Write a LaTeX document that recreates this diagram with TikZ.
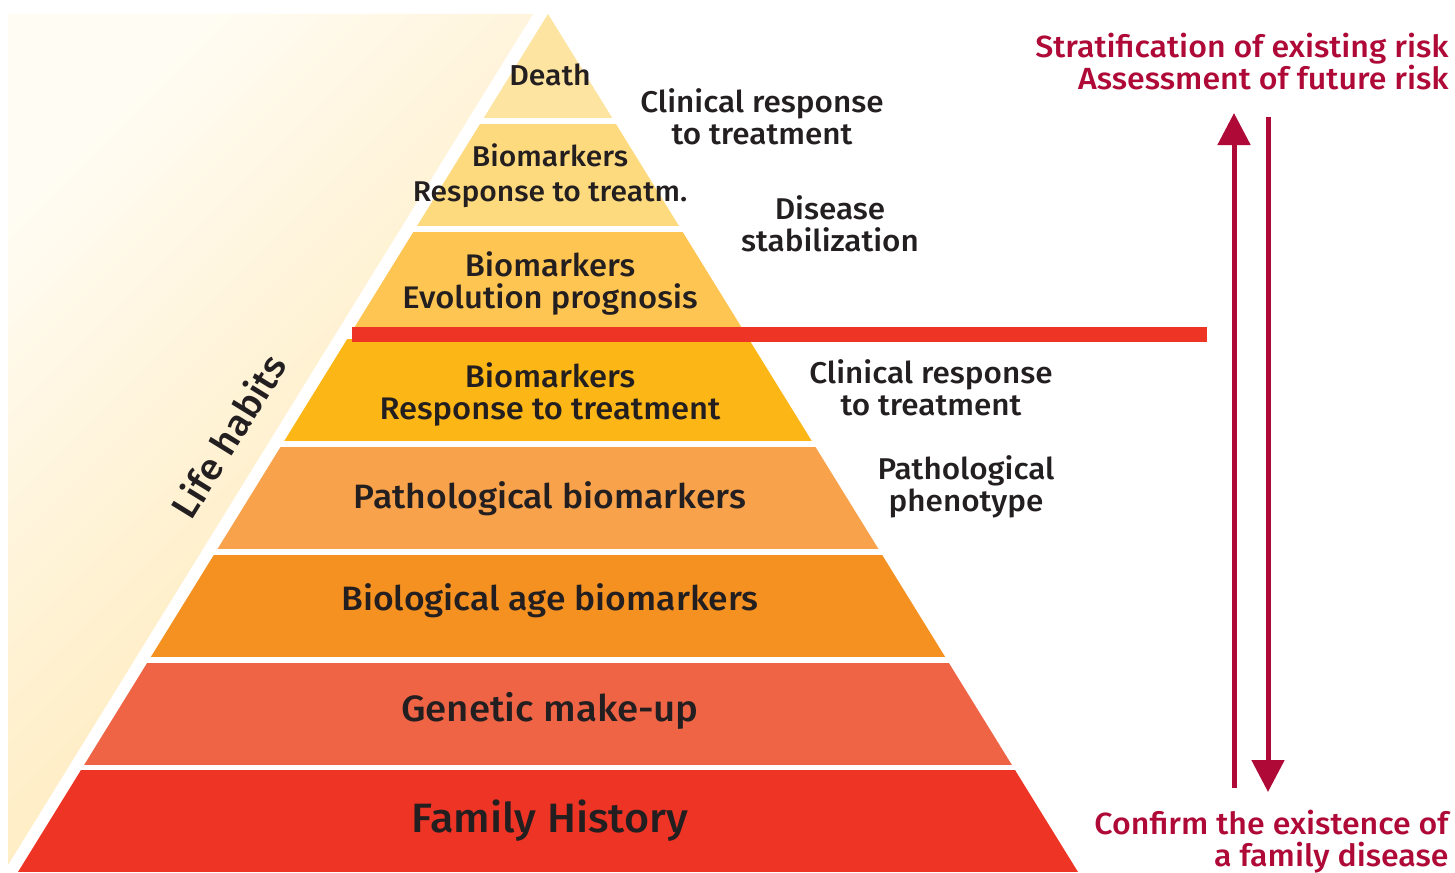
\documentclass[tikz,border=0pt]{standalone}
\usepackage{fontspec}
\setmainfont{Fira Sans}[UprightFont={* Medium}, FakeStretch=1.05]
\usepackage{tikz}
\usetikzlibrary{arrows.meta}
\definecolor{habitLight}{HTML}{FFFCF3}
\definecolor{habitDark}{HTML}{FFE6AE}
\definecolor{deathFill}{HTML}{FEE4A1}
\definecolor{respFill}{HTML}{FEDA7E}
\definecolor{evolFill}{HTML}{FEC552}
\definecolor{treatFill}{HTML}{FCB716}
\definecolor{pathoFill}{HTML}{F8A24B}
\definecolor{ageFill}{HTML}{F59120}
\definecolor{geneFill}{HTML}{F06446}
\definecolor{familyFill}{HTML}{EE3424}
\definecolor{barRed}{HTML}{EE3424}
\definecolor{riskTxt}{HTML}{AF0A37}
\definecolor{layerTxt}{HTML}{231F20}
\tikzset{
  layer text/.style={
    align=center, inner sep=0pt, text=layerTxt,
    font=\fontsize{15.6}{16}\selectfont
  },
  small layer text/.style={layer text,
    font=\fontsize{14.3}{17.5}\selectfont},
  wide layer text/.style={layer text,
    font=\fontsize{16.9}{18}\selectfont},
  base text/.style={layer text,
    font=\fontsize{20.5}{22}\selectfont},
  side text/.style={
    align=center, inner sep=0pt, text=layerTxt,
    font=\fontsize{15}{16}\selectfont
  },
  risk text/.style={
    align=right, inner sep=0pt, text=riskTxt, anchor=east,
    font=\fontsize{15.3}{16}\selectfont
  },
  risk arrow/.style={
    riskTxt, line width=2.5pt,
    -{Triangle[length=16pt, width=16pt]}
  },
}

\begin{document}
\begin{tikzpicture}[x=0.5pt, y=-0.5pt]
    \useasboundingbox (0,0) rectangle (1455,872);
    \fill[white] (0,0) rectangle (1455,872);

    % Life habits band
    \shade[top color=habitLight, bottom color=habitDark, shading angle=45]
      (8,14) -- (533,14) -- (8,865) -- cycle;
    \node[layer text, font=\fontsize{18.3}{20}\selectfont, rotate=58.3]
      (habits) at (228,436) {Life habits};

    % Pyramid levels
    \begin{scope}
      \clip (548,14) -- (1078,872) -- (18,872) -- cycle;
      \foreach \yt/\yb/\col in {14/118/deathFill, 124/226/respFill,
          232/330/evolFill, 339/441/treatFill, 447/549/pathoFill,
          555/657/ageFill, 663/765/geneFill, 770/872/familyFill}
        \fill[\col] (0,\yt) rectangle (1455,\yb);
    \end{scope}
    \fill[barRed] (352,327) rectangle (1207,342);

    % Nodes
    \node[layer text, font=\fontsize{14.4}{16}\selectfont] (death) at (550,75) {Death};
    \node[small layer text] (respA) at (550,176) {Biomarkers\\Response to treatm.};
    \node[layer text] (evol) at (550,283) {Biomarkers\\Evolution prognosis};
    \node[layer text] (respB) at (550,394) {Biomarkers\\Response to treatment};
    \node[wide layer text] (patho) at (550,499) {Pathological biomarkers};
    \node[wide layer text] (age) at (550,601) {Biological age biomarkers};
    \node[layer text, font=\fontsize{18.3}{20}\selectfont] (gene) at (550,711) {Genetic make-up};
    \node[base text] (family) at (550,821) {Family History};

    \node[side text] (clinA) at (762,117) {Clinical response\\to treatment};
    \node[side text] (stab) at (830,224) {Disease\\stabilization};
    \node[side text] (clinB) at (931,388) {Clinical response\\to treatment};
    \node[side text] (pheno) at (966,487) {Pathological\\phenotype};

    \node[risk text] (strat) at (1449,62) {Stratification of existing risk\\Assessment of future risk};
    \node[risk text] (confirm) at (1449,842) {Confirm the existence of\\a family disease};

    % Arrows
    \coordinate (upFoot) at (1234,788);
    \coordinate (upTip) at (1234,113);
    \coordinate (downFoot) at (1268,117);
    \coordinate (downTip) at (1268,792);
    \draw[risk arrow] (upFoot) -- (upTip);
    \draw[risk arrow] (downFoot) -- (downTip);
\end{tikzpicture}
\end{document}
